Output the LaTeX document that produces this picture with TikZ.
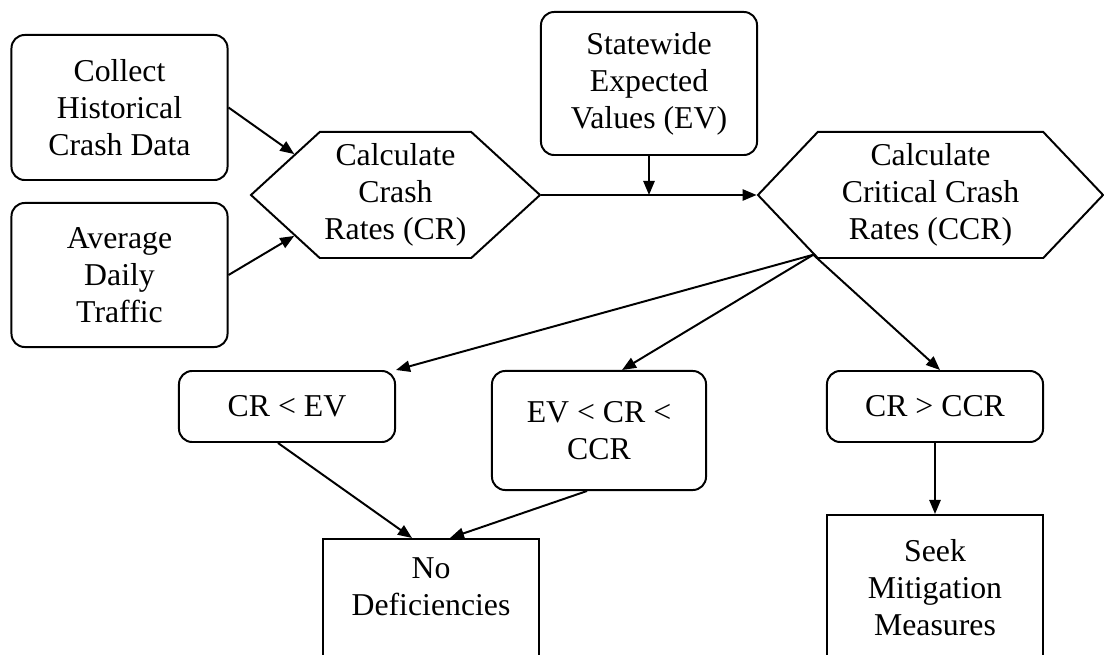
\documentclass[tikz,border=0pt]{standalone}
\usepackage{fontspec}
\setmainfont{Liberation Serif}
\usetikzlibrary{shapes.symbols,arrows.meta}

\tikzset{
    inbox/.style = {draw, line width=1.4pt, rounded corners=0.33cm, align=center, minimum width=5.4cm},
    calcbox/.style = {draw, line width=1.4pt, signal, signal to=west and east, align=center, minimum height=3.15cm},
    resultbox/.style = {draw, line width=1.4pt, align=center, minimum width=5.4cm, anchor=north},
    flow/.style = {line width=1.4pt, -{Triangle[length=0.35cm, width=0.28cm]}}
}

\begin{document}
\begin{tikzpicture}[x=0.025cm, y=-0.025cm, font=\fontsize{22.6}{26.3}\selectfont]
\path[use as bounding box, clip] (0,0) rectangle (1104,655);

% inputs
\node[inbox, minimum height=3.625cm] (collect) at (119.5,107.5) {Collect\\Historical\\Crash Data};
\node[inbox, minimum height=3.6cm] (adt) at (119.5,275) {Average\\Daily\\Traffic};
\node[inbox, minimum height=3.575cm] (ev) at (649,83.5) {Statewide\\Expected\\Values (EV)};

% calculations
\node[calcbox, minimum width=7.175cm, signal pointer angle=85] (cr) at (395.5,195) {Calculate\\Crash\\Rates (CR)};
\node[calcbox, minimum width=8.625cm, signal pointer angle=93] (ccr) at (930.5,195) {Calculate\\Critical Crash\\Rates (CCR)};

% comparisons
\node[inbox, minimum height=1.775cm] (lowcr) at (287,406.5) {CR < EV};
\node[inbox, minimum height=2.975cm, minimum width=5.35cm] (midcr) at (599,430.5) {EV < CR <\\CCR};
\node[inbox, minimum height=1.775cm] (highcr) at (935,406.5) {CR > CCR};

% outcomes
\node[resultbox, inner ysep=0.475cm, text depth=3cm] (nodef) at (431,538) {No\\Deficiencies};
\node[resultbox, minimum height=3.625cm] (seek) at (935,514) {Seek\\Mitigation\\Measures};

% connectors
\draw[flow] (collect.east) -- (cr.158);
\draw[flow] (adt.east) -- (cr.202);
\draw[flow] (cr.east) -- (ccr.west);
\draw[flow] (ev.south) -- (ev.south |- cr.east);
\draw[flow] (ccr.207) -- (lowcr.north east);
\draw[flow] (ccr.207) -- ([xshift=0.575cm]midcr.north);
\draw[flow] (ccr.207) -- ([xshift=0.125cm]highcr.north);
\draw[flow] (highcr.south) -- (seek.north);
\draw[flow] ([xshift=-0.225cm]lowcr.south) -- ([xshift=-0.475cm]nodef.north);
\draw[flow] ([xshift=-0.3cm]midcr.south) -- ([xshift=0.475cm]nodef.north);
\end{tikzpicture}
\end{document}
